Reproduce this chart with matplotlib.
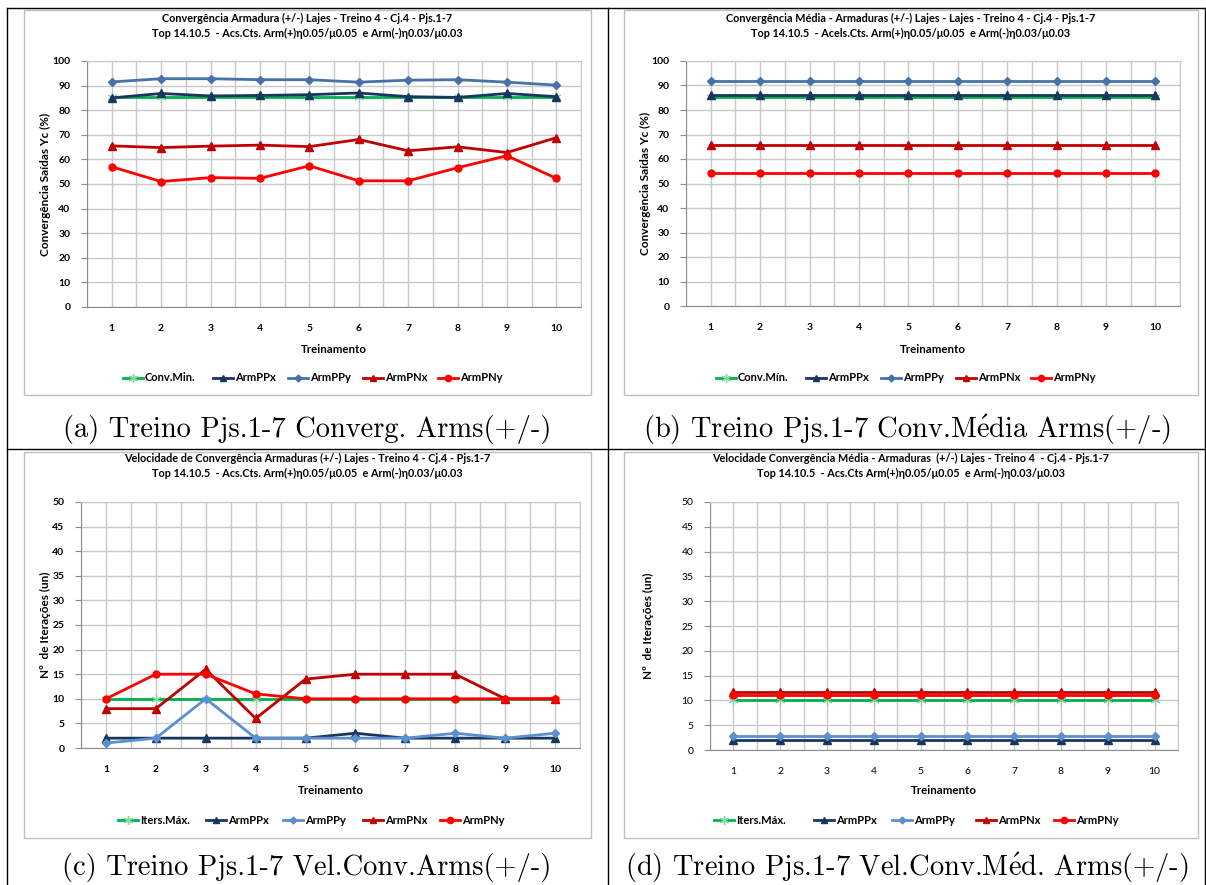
import matplotlib
matplotlib.use("Agg")
import matplotlib.pyplot as plt
from matplotlib.lines import Line2D
import numpy as np

W, H = 1206, 885

# ---------------- data ----------------
treinos = [1, 2, 3, 4, 5, 6, 7, 8, 9, 10]
series_names = ["ArmPPx", "ArmPPy", "ArmPNx", "ArmPNy"]

# (a) convergence per training
a_convmin = [85.3, 85.3, 85.3, 85.3, 85.3, 85.3, 85.3, 85.3, 85.3, 85.3]
a_ppx = [85.0, 86.8, 85.8, 86.0, 86.3, 87.0, 85.5, 85.2, 86.8, 85.5]
a_ppy = [91.5, 92.8, 92.8, 92.4, 92.4, 91.4, 92.2, 92.4, 91.4, 90.2]
a_pnx = [65.5, 64.8, 65.4, 65.8, 65.2, 68.1, 63.5, 65.1, 62.8, 68.8]
a_pny = [57.0, 51.0, 52.6, 52.3, 57.4, 51.3, 51.3, 56.6, 61.5, 52.3]

# (b) mean convergence
b_convmin = [85.3] * 10
b_ppx = [86.0] * 10
b_ppy = [92.0] * 10
b_pnx = [65.6] * 10
b_pny = [54.3] * 10

# (c) convergence speed (iterations)
c_itmax = [10, 10, 10, 10, 10, 10, 10, 10, 10, 10]
c_ppx = [2, 2, 2, 2, 2, 3, 2, 2, 2, 2]
c_ppy = [1, 2, 10, 2, 2, 2, 2, 3, 2, 3]
c_pnx = [8, 8, 16, 6, 14, 15, 15, 15, 10, 10]
c_pny = [10, 15, 15, 11, 10, 10, 10, 10, 10, 10]

# (d) mean convergence speed
d_itmax = [10] * 10
d_ppx = [2.1] * 10
d_ppy = [2.9] * 10
d_pnx = [11.7] * 10
d_pny = [11.1] * 10

titles = [
    "Convergência Armadura (+/-) Lajes - Treino 4 - Cj.4 - Pjs.1-7\nTop 14.10.5  - Acs.Cts. Arm(+)η0.05/μ0.05  e Arm(-)η0.03/μ0.03",
    "Convergência Média - Armaduras (+/-) Lajes - Lajes - Treino 4 - Cj.4 - Pjs.1-7\nTop 14.10.5  - Acels.Cts. Arm(+)η0.05/μ0.05  e Arm(-)η0.03/μ0.03",
    "Velocidade de Convergência Armaduras (+/-) Lajes - Treino 4 - Cj.4 - Pjs.1-7\nTop 14.10.5  - Acs.Cts. Arm(+)η0.05/μ0.05  e Arm(-)η0.03/μ0.03",
    "Velocidade Convergência Média - Armaduras  (+/-) Lajes - Treino 4  - Cj.4 - Pjs.1-7\nTop 14.10.5  - Acs.Cts Arm(+)η0.05/μ0.05  e Arm(-)η0.03/μ0.03",
]
captions = [
    "(a) Treino Pjs.1-7 Converg. Arms(+/-)",
    "(b) Treino Pjs.1-7 Conv.M$\\mathrm{\\acute{e}}$dia Arms(+/-)",
    "(c) Treino Pjs.1-7 Vel.Conv.Arms(+/-)",
    "(d) Treino Pjs.1-7 Vel.Conv.M$\\mathrm{\\acute{e}}$d. Arms(+/-)",
]
ylabels = ["Convergência Saídas Yc (%)", "Convergência Saídas Yc (%)",
           "Nº  de Iterações (un)", "Nº  de Iterações (un)"]
first_names = ["Conv.Min.", "Conv.Mín.", "Iters.Máx.", "Iters.Máx."]

panels = [
    (a_convmin, a_ppx, a_ppy, a_pnx, a_pny),
    (b_convmin, b_ppx, b_ppy, b_pnx, b_pny),
    (c_itmax, c_ppx, c_ppy, c_pnx, c_pny),
    (d_itmax, d_ppx, d_ppy, d_pnx, d_pny),
]

# ---------------- style ----------------
GREEN = "#00B050"
NAVY = "#17375E"
BLUES = ["#4672AA", "#4672AA", "#5B8FD0", "#5B8FD0"]
DRED = "#C00000"
RED = "#FF0000"
markers = [(6, 2, 0), "^", "D", "^", "o"]
msizes = [7, 5.5, 4, 5.5, 5]

SANS = ["Lato", "DejaVu Sans"]
SERIF = ["cmr10", "DejaVu Serif"]
plt.rcParams["axes.unicode_minus"] = False
plt.rcParams["mathtext.fontset"] = "cm"

fig = plt.figure(figsize=(W / 100, H / 100), dpi=100)


def rect(x0, y0, x1, y1):
    return [x0 / W, 1 - y1 / H, (x1 - x0) / W, (y1 - y0) / H]


def fx(x):
    return x / W


def fy(y):
    return 1 - y / H


# frame lines
for (xa, ya, xb, yb) in [(7, 8, 1206, 8), (7, 8, 7, 885), (608, 8, 608, 885),
                         (7, 449, 1206, 449), (1205, 8, 1205, 885)]:
    fig.add_artist(Line2D([fx(xa), fx(xb)], [fy(ya), fy(yb)], color="black", lw=1.0))

# gray chart boxes
boxes = [(24, 10, 591, 395), (624, 10, 1198, 395), (24, 452, 591, 838), (624, 452, 1198, 838)]
for (x0, y0, x1, y1) in boxes:
    fig.add_artist(plt.Rectangle((fx(x0), fy(y1)), fx(x1 - x0), (y1 - y0) / H,
                                 fill=False, ec="#BFBFBF", lw=1.0, transform=fig.transFigure))

# plot areas (pixel coords)
areas = [(87, 61, 581, 307), (686, 61, 1180, 306), (81, 502, 580, 748), (710, 502, 1178, 750)]
ylims = [(0, 100, 10), (0, 100, 10), (0, 50, 5), (0, 50, 5)]
title_y = [26, 26, 466, 466]
xlabel_y = [349, 349, 790, 790]
ylabel_x = [45, 645, 45, 648]
legend_y = [378, 378, 820, 820]
legend_x0 = [123, 716, 118, 714]
legend_gap = [[0, 90, 165, 240, 315], [0, 90, 165, 240, 315],
              [0, 88, 165, 245, 322], [0, 100, 178, 262, 340]]
caption_pos = [(307, 430), (907, 430), (307, 868), (907, 868)]

for i in range(4):
    colors = [GREEN, NAVY, BLUES[i], DRED, RED]
    x0, y0, x1, y1 = areas[i]
    ax = fig.add_axes(rect(x0, y0, x1, y1))
    ymin, ymax, ystep = ylims[i]
    data = panels[i]
    for k in range(5):
        ax.plot(treinos, data[k], color=colors[k], lw=2.0, marker=markers[k],
                ms=msizes[k], mec=colors[k] if k else "#7FD9A0", mfc=colors[k],
                mew=1.0 if k else 0.8, zorder=3 + k, clip_on=False)
    ax.set_xlim(0.5, 10.5)
    ax.set_ylim(ymin, ymax)
    ax.set_yticks(np.arange(ymin, ymax + 0.1, ystep))
    ax.set_xticks(treinos)
    ax.set_xticks(np.arange(0.5, 10.6, 1.0), minor=True)
    ax.grid(True, which="both", axis="x", color="#C8C8C8", lw=1.0)
    ax.grid(True, which="major", axis="y", color="#C8C8C8", lw=1.0)
    ax.set_axisbelow(True)
    for s in ["top", "right"]:
        ax.spines[s].set_color("#C8C8C8")
    for s in ["left", "bottom"]:
        ax.spines[s].set_color("#8C8C8C")
    ax.tick_params(axis="both", which="both", length=0)
    ax.tick_params(axis="y", which="major", length=4, color="#8C8C8C", direction="out")
    bold = "bold" if i < 3 else "normal"
    for lab in ax.get_xticklabels() + ax.get_yticklabels():
        lab.set_fontfamily(SANS)
        lab.set_fontsize(7.5)
        lab.set_fontweight(bold)
    ax.tick_params(axis="x", pad=12)
    ax.tick_params(axis="y", pad=8)

    cx = (boxes[i][0] + boxes[i][2]) / 2
    fig.text(fx(cx), fy(title_y[i]), titles[i], ha="center", va="center",
             fontsize=7.8, fontweight="bold", family=SANS, linespacing=1.35)
    fig.text(fx((x0 + x1) / 2), fy(xlabel_y[i]), "Treinamento", ha="center", va="center",
             fontsize=8.3, fontweight="bold", family=SANS)
    fig.text(fx(ylabel_x[i]), fy((y0 + y1) / 2), ylabels[i], ha="center", va="center",
             rotation=90, fontsize=8.5, fontweight="bold", family=SANS)

    # legend
    names = [first_names[i]] + series_names
    for k in range(5):
        lx = legend_x0[i] + legend_gap[i][k]
        ly = legend_y[i]
        fig.add_artist(Line2D([fx(lx), fx(lx + 10), fx(lx + 20)], [fy(ly)] * 3,
                              color=colors[k], lw=2.0,
                              marker=markers[k], markevery=[1], ms=msizes[k] - 0.5,
                              mfc=colors[k], mec=colors[k] if k else "#7FD9A0"))
        fig.text(fx(lx + 22), fy(ly), names[k], ha="left", va="center",
                 fontsize=8, fontweight="bold", family=SANS)

    cpx, cpy = caption_pos[i]
    fig.text(fx(cpx), fy(cpy), captions[i], ha="center", va="center",
             fontsize=20.5, family=SERIF)

fig.savefig("out.png", dpi=100)
